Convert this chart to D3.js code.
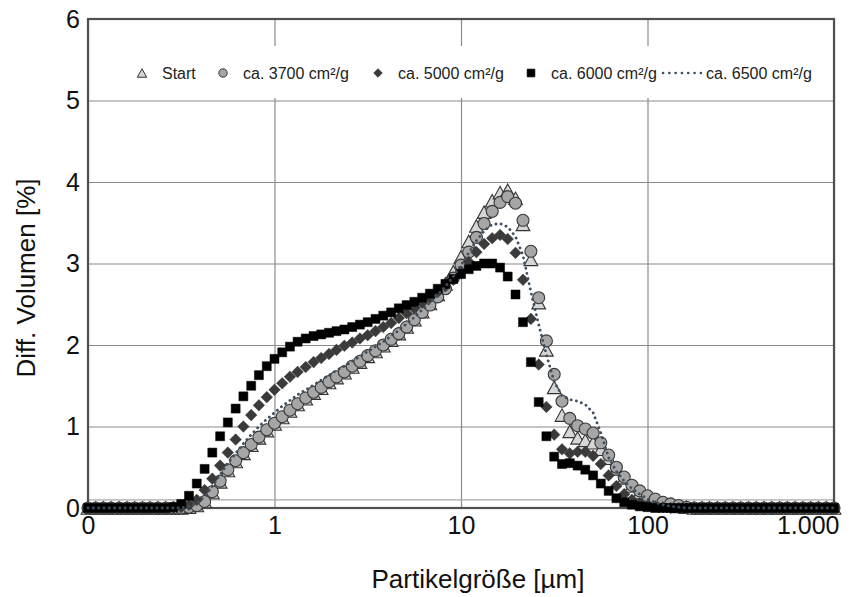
<!DOCTYPE html>
<html><head><meta charset="utf-8">
<script src="https://cdn.jsdelivr.net/npm/d3@7"></script>
<style>body{margin:0;background:#fff}svg{display:block;font-family:"Liberation Sans",Arial,sans-serif}</style>
</head><body><svg id="c" width="867" height="597"></svg>
<script>
// Particle sizes (µm)
const sizes = [0.1,0.110,0.121,0.133,0.147,0.162,0.178,0.196,0.215,0.237,0.261,0.287,0.316,0.348,0.383,0.422,0.464,0.511,0.562,0.619,0.681,0.750,0.825,0.909,
1,1.10,1.21,1.33,1.47,1.62,1.78,1.96,2.15,2.37,2.61,2.87,3.16,3.48,3.83,4.22,4.64,5.11,5.62,6.19,6.81,7.50,8.25,9.09,
10,11.0,12.1,13.3,14.7,16.2,17.8,19.6,21.5,23.7,26.1,28.7,31.6,34.8,38.3,42.2,46.4,51.1,56.2,61.9,68.1,75.0,82.5,90.9,
100,110,121,133,147,162,178,196,215,237,261,287,316,348,383,422,464,511,562,619,681,750,825,909,1000];

const startVals = [0,0,0,0,0,0,0,0,0,0,0,0,0,
0.01,0.03,0.08,0.19,0.32,0.46,0.57,0.67,0.77,0.86,0.95,
1.03,1.11,1.19,1.27,1.34,1.41,1.47,1.54,1.60,1.66,1.73,1.79,1.86,1.92,1.99,2.06,2.14,2.22,2.31,2.41,2.51,2.62,2.75,2.90,
3.08,3.27,3.46,3.63,3.77,3.87,3.90,3.80,3.48,3.05,2.52,1.94,1.48,1.14,0.94,0.86,0.83,0.80,0.72,0.61,0.48,0.37,0.27,0.19,
0.13,0.09,0.06,0.04,0.02,0.01,0,0,0,0,0,0,0,0,0,0,0,0,0,0,0,0,0,0,0];

const v3700 = [0,0,0,0,0,0,0,0,0,0,0,0,0,
0.01,0.03,0.08,0.20,0.33,0.47,0.58,0.68,0.78,0.87,0.96,
1.04,1.12,1.20,1.28,1.35,1.42,1.48,1.55,1.61,1.67,1.74,1.80,1.87,1.93,2.00,2.07,2.14,2.22,2.31,2.40,2.49,2.59,2.69,2.82,
2.98,3.14,3.32,3.49,3.64,3.75,3.82,3.74,3.53,3.15,2.58,2.05,1.64,1.31,1.10,1.01,0.97,0.92,0.80,0.65,0.50,0.38,0.28,0.21,
0.15,0.11,0.07,0.05,0.03,0.01,0,0,0,0,0,0,0,0,0,0,0,0,0,0,0,0,0,0,0];

const v5000 = [0,0,0,0,0,0,0,0,0,0,0,0,
0.01,0.04,0.10,0.22,0.36,0.52,0.68,0.84,1.00,1.14,1.26,1.36,
1.45,1.53,1.61,1.67,1.73,1.79,1.84,1.89,1.94,1.99,2.03,2.08,2.12,2.17,2.22,2.27,2.33,2.39,2.45,2.52,2.58,2.65,2.72,2.80,
2.90,3.02,3.14,3.24,3.31,3.35,3.30,3.13,2.80,2.32,1.76,1.24,0.90,0.72,0.67,0.69,0.69,0.64,0.54,0.40,0.27,0.17,0.10,0.06,
0.03,0.02,0.01,0,0,0,0,0,0,0,0,0,0,0,0,0,0,0,0,0,0,0,0,0,0];

const v6000 = [0,0,0,0,0,0,0,0,0,0,0,
0.01,0.05,0.15,0.30,0.48,0.68,0.88,1.05,1.22,1.37,1.50,1.63,1.74,
1.83,1.91,1.98,2.04,2.08,2.11,2.13,2.15,2.17,2.19,2.22,2.25,2.28,2.32,2.36,2.40,2.45,2.49,2.53,2.58,2.63,2.69,2.75,2.81,
2.87,2.93,2.97,3.00,3.00,2.95,2.84,2.62,2.28,1.79,1.30,0.88,0.63,0.54,0.55,0.52,0.47,0.40,0.30,0.21,0.12,0.07,0.04,0.02,
0.01,0,0,0,0,0,0,0,0,0,0,0,0,0,0,0,0,0,0,0,0,0,0,0,0];

const v6500 = [0,0,0,0,0,0,0,0,0,0,0,0,0,
0.02,0.06,0.14,0.27,0.41,0.55,0.67,0.79,0.90,1.00,1.09,
1.17,1.25,1.32,1.39,1.45,1.51,1.57,1.63,1.69,1.74,1.80,1.86,1.92,1.98,2.04,2.11,2.18,2.26,2.34,2.43,2.52,2.62,2.72,2.84,
2.98,3.13,3.28,3.40,3.48,3.49,3.45,3.33,3.10,2.65,2.25,1.88,1.55,1.38,1.33,1.31,1.27,1.17,0.92,0.62,0.45,0.33,0.24,0.17,
0.11,0.07,0.04,0.02,0.01,0,0,0,0,0,0,0,0,0,0,0,0,0,0,0,0,0,0,0,0];

const seriesNames = ["Start","ca. 3700 cm²/g","ca. 5000 cm²/g","ca. 6000 cm²/g","ca. 6500 cm²/g"];
const xTicks = [0.1,1,10,100,1000];
const xTickLabels = ["0","1","10","100","1.000"];
const yTicks = [0,1,2,3,4,5,6];
const xTitle = "Partikelgröße [µm]";
const yTitle = "Diff. Volumen [%]";

const svg = d3.select("#c");
const L=88,R=834,T=19,B=508;
const x = d3.scaleLog().domain([0.1,1000]).range([L,R]);
const y = d3.scaleLinear().domain([0,6]).range([B,T]);

// gridlines
svg.append("g").attr("transform",`translate(0,${B})`)
  .call(d3.axisBottom(x).tickValues(xTicks).tickSize(-(B-T)).tickFormat(""))
  .call(g=>g.select(".domain").remove())
  .selectAll("line").attr("stroke","#8a8a8a").attr("stroke-width",1.2);
svg.append("g").attr("transform",`translate(${L},0)`)
  .call(d3.axisLeft(y).tickValues(yTicks).tickSize(-(R-L)).tickFormat(""))
  .call(g=>g.select(".domain").remove())
  .selectAll("line").attr("stroke","#8a8a8a").attr("stroke-width",1.2);
// faint base line
svg.append("line").attr("x1",L).attr("x2",R).attr("y1",y(0.1)).attr("y2",y(0.1))
  .attr("stroke","#a8a8a8").attr("stroke-width",1.2);

// legend background
svg.append("rect").attr("x",118).attr("y",46).attr("width",712).attr("height",52).attr("fill","#fff");

// frame
svg.append("rect").attr("x",L).attr("y",T).attr("width",R-L).attr("height",B-T)
  .attr("fill","none").attr("stroke","#505050").attr("stroke-width",2.2);

// symbol paths
const tri = s => `M0,${-s/2}L${s*0.55},${s/2}L${-s*0.55},${s/2}Z`;
const dia = d => `M0,${-d}L${d},0L0,${d}L${-d},0Z`;
const sq = s => `M${-s/2},${-s/2}h${s}v${s}h${-s}Z`;
const circ = r => `M${r},0A${r},${r} 0 1,1 ${-r},0A${r},${r} 0 1,1 ${r},0Z`;

const pts = vals => sizes.map((s,i)=>[s,vals[i]]);
function markers(vals, path, fill, stroke, sw){
  svg.append("g").selectAll("path").data(pts(vals)).join("path")
    .attr("transform",d=>`translate(${x(d[0])},${y(d[1])})`)
    .attr("d",path).attr("fill",fill).attr("stroke",stroke).attr("stroke-width",sw);
}
markers(startVals, tri(12.5), "#d6d6d6", "#333", 1.1);
markers(v3700, circ(6), "#a6a6a6", "#383838", 1.1);
markers(v5000, dia(5.8), "#3a3a3a", "#3a3a3a", 0.5);
markers(v6000, sq(9), "#000", "#000", 0.5);
const line = d3.line().x(d=>x(d[0])).y(d=>y(d[1]));
svg.append("path").datum(pts(v6500)).attr("d",line).attr("fill","none")
  .attr("stroke","#3e4f60").attr("stroke-width",2.8).attr("stroke-dasharray","0.1 5.2")
  .attr("stroke-linecap","round");

// axis labels
const xa = svg.append("g").attr("transform",`translate(0,${B})`)
  .call(d3.axisBottom(x).tickValues(xTicks).tickFormat((d,i)=>xTickLabels[i]).tickSize(0).tickPadding(8));
xa.select(".domain").remove();
xa.selectAll("text").attr("font-size",25).attr("font-family","Liberation Sans, Arial, sans-serif").attr("fill","#111")
  .attr("text-anchor",(d,i)=> i===xTicks.length-1 ? "end" : "middle")
  .attr("dx",(d,i)=> i===xTicks.length-1 ? 5 : 0);
const ya = svg.append("g").attr("transform",`translate(${L},0)`)
  .call(d3.axisLeft(y).tickValues(yTicks).tickFormat(d3.format("d")).tickSize(0).tickPadding(8));
ya.select(".domain").remove();
ya.selectAll("text").attr("font-size",25).attr("font-family","Liberation Sans, Arial, sans-serif").attr("fill","#111");

svg.append("text").attr("x",478).attr("y",588).attr("text-anchor","middle")
  .attr("font-size",26).attr("fill","#111").text(xTitle);
svg.append("text").attr("transform","translate(35,278) rotate(-90)").attr("text-anchor","middle")
  .attr("font-size",26).attr("fill","#111").text(yTitle);

// legend
const ly = 73;
const lg = svg.append("g").attr("font-size",16).attr("fill","#222");
const symX = [142,223,378,531];
const symPaths = [tri(8.5),circ(4.2),dia(4.2),sq(7.5)];
const symFill = ["#d6d6d6","#a6a6a6","#3a3a3a","#000"];
const symStroke = ["#333","#383838","#3a3a3a","#000"];
symX.forEach((sx,i)=>{
  lg.append("path").attr("transform",`translate(${sx},${ly})`).attr("d",symPaths[i])
    .attr("fill",symFill[i]).attr("stroke",symStroke[i]).attr("stroke-width",1);
  lg.append("text").attr("x",sx+20).attr("y",ly+6).text(seriesNames[i]);
});
lg.append("line").attr("x1",663).attr("x2",701).attr("y1",ly).attr("y2",ly)
  .attr("stroke","#3e4f60").attr("stroke-width",2.6).attr("stroke-dasharray","0.1 6.2").attr("stroke-linecap","round");
lg.append("text").attr("x",706).attr("y",ly+6).text(seriesNames[4]);
</script></body></html>
